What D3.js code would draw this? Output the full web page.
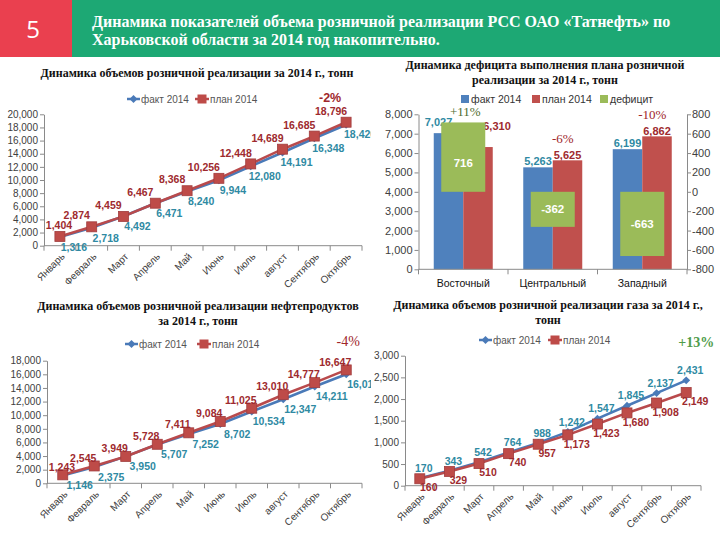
<!DOCTYPE html>
<html><head><meta charset="utf-8">
<script src="https://cdn.jsdelivr.net/npm/d3@7"></script>
<style>body{margin:0;background:#fff}svg{display:block}</style>
</head><body><svg id="c" width="720" height="540"></svg>
<script>
// ---------- data ----------
const titleLines = ["Динамика показателей объема розничной реализации РСС  ОАО «Татнефть» по", "Харьковской области за 2014 год накопительно."];
const slideNumber = "5";
const months = ["Январь","Февраль","Март","Апрель","Май","Июнь","Июль","август","Сентябрь","Октябрь"];
const seriesNames = ["факт 2014","план 2014","дефицит"];

const totalFact = [1316,2718,4492,6471,8240,9944,12080,14191,16348,18420];
const totalPlan = [1404,2874,4459,6467,8368,10256,12448,14689,16685,18796];
const totalTicks = [0,2000,4000,6000,8000,10000,12000,14000,16000,18000,20000];

const oilFact = [1146,2375,3950,5707,7252,8702,10534,12347,14211,16010];
const oilPlan = [1243,2545,3949,5728,7411,9084,11025,13010,14777,16647];
const oilTicks = [0,2000,4000,6000,8000,10000,12000,14000,16000,18000];

const gasFact = [170,343,542,764,988,1242,1547,1845,2137,2431];
const gasPlan = [160,329,510,740,957,1173,1423,1680,1908,2149];
const gasTicks = [0,500,1000,1500,2000,2500,3000];

const regions = ["Восточный","Центральный","Западный"];
const regionFact = [7027,5263,6199];
const regionPlan = [6310,5625,6862];
const regionDeficit = [716,-362,-663];
const regionPct = ["+11%","-6%","-10%"];
const leftTicks = [0,1000,2000,3000,4000,5000,6000,7000,8000];
const rightTicks = [-800,-600,-400,-200,0,200,400,600,800];

const subTotal = ["Динамика объемов розничной реализации за  2014 г., тонн"];
const subDeficit = ["Динамика дефицита выполнения плана розничной","реализации за  2014 г., тонн"];
const subOil = ["Динамика объемов розничной реализации нефтепродуктов","за  2014 г., тонн"];
const subGas = ["Динамика объемов  розничной реализации газа за  2014 г.,","тонн"];
const pctTotal = "-2%", pctOil = "-4%", pctGas = "+13%";

// ---------- styles ----------
const C = {
  factLine:"#4a7ab8", planLine:"#b94a4c", planMarker:"#be4b48", planMarkerStroke:"#a13d3e",
  factLbl:"#2f8aa3", planLbl:"#9e2a2e", axis:"#8a8a8a", tick:"#404040",
  blue:"#4f81bd", red:"#c0504d", green:"#9bbb59", green2:"#4f9c4a"
};
const SANS = "'Liberation Sans', Arial, sans-serif";
const SERIF = "'Liberation Serif', 'Times New Roman', serif";
const fmt = d => d3.format(",")(d).replace("\u2212","-");

const svg = d3.select("#c");

// ---------- header ----------
svg.append("rect").attr("x",0).attr("y",0).attr("width",72).attr("height",57).attr("fill","#ea404f");
svg.append("rect").attr("x",72).attr("y",0).attr("width",648).attr("height",57).attr("fill","#1da874");
svg.append("text").attr("x",33).attr("y",38).attr("text-anchor","middle").attr("fill","#fff")
  .style("font-family","'Open Sans', "+SANS).style("font-size","24px").text(slideNumber);
titleLines.forEach((t,i)=>svg.append("text").attr("x",92).attr("y",27+i*18).attr("fill","#fff")
  .style("font-family",SERIF).style("font-weight","bold").style("font-size","16px").text(t));

function subtitle(lines, cx, y0){
  lines.forEach((t,i)=>svg.append("text").attr("x",cx).attr("y",y0+i*15).attr("text-anchor","middle")
    .style("font-family",SERIF).style("font-weight","bold").style("font-size","12px").attr("fill","#111").text(t));
}
subtitle(subTotal,197,77);
subtitle(subDeficit,545,69);
subtitle(subOil,198,310);
subtitle(subGas,548,309);

// clip for left charts
const defs = svg.append("defs");
defs.append("clipPath").attr("id","clipL").append("rect").attr("x",0).attr("y",60).attr("width",371).attr("height",480);

function styleAxis(g, size){
  g.select(".domain").attr("stroke",C.axis);
  g.selectAll(".tick line").attr("stroke",C.axis);
  g.selectAll(".tick text").attr("fill",C.tick).style("font-family",SANS).style("font-size",size+"px");
}

function lineChart(o){
  const g = svg.append("g").attr("clip-path", o.clip ? "url(#clipL)" : null);
  const x = d3.scaleBand().domain(months).range([o.x0,o.x1]);
  const y = d3.scaleLinear().domain([0,d3.max(o.ticks)]).range([o.yb,o.yt]);
  const cx = m => x(m)+x.bandwidth()/2;
  // y axis
  const ya = g.append("g").attr("transform",`translate(${o.x0},0)`)
    .call(d3.axisLeft(y).tickValues(o.ticks).tickSize(4).tickSizeOuter(0).tickPadding(2).tickFormat(fmt));
  styleAxis(ya,10);
  // x axis
  g.append("line").attr("x1",o.x0).attr("x2",o.x1).attr("y1",o.yb).attr("y2",o.yb).attr("stroke",C.axis);
  g.selectAll(null).data(months.concat(["__end"])).enter().append("line")
    .attr("x1",d=>d==="__end"?o.x1:x(d)).attr("x2",d=>d==="__end"?o.x1:x(d))
    .attr("y1",o.yb).attr("y2",o.yb+5).attr("stroke",C.axis);
  g.selectAll(null).data(months).enter().append("text")
    .attr("transform",d=>`translate(${cx(d)+3},${o.yb+9}) rotate(-45)`)
    .attr("text-anchor","end").attr("dy","0.35em").attr("fill",C.tick)
    .style("font-family",SANS).style("font-size","10px").text(d=>d);
  // lines
  const line = arr => d3.line().x((d,i)=>cx(months[i])).y(d=>y(d))(arr);
  const series = [
    {v:o.fact, color:C.factLine, kind:"fact"},
    {v:o.plan, color:C.planLine, kind:"plan"}
  ];
  series.forEach(s=>{
    g.append("path").attr("d",line(s.v)).attr("fill","none").attr("stroke",s.color).attr("stroke-width",2.6);
    if(s.kind==="plan"){
      g.selectAll(null).data(s.v).enter().append("rect")
        .attr("x",(d,i)=>cx(months[i])-5).attr("y",d=>y(d)-5).attr("width",10).attr("height",10)
        .attr("fill",C.planMarker).attr("stroke",C.planMarkerStroke).attr("stroke-width",0.8);
    } else {
      g.selectAll(null).data(s.v).enter().append("path")
        .attr("d",d3.symbol(d3.symbolDiamond2,40)())
        .attr("transform",(d,i)=>`translate(${cx(months[i])},${y(d)})`)
        .attr("fill",C.factLine);
    }
  });
  // labels (kept clear of the y-axis tick labels)
  const minX = o.x0 + 15;
  const lbl = (arr,off,color)=>g.selectAll(null).data(arr).enter().append("text")
    .attr("x",(d,i)=>Math.max(minX, cx(months[i])+off[0])).attr("y",(d,i)=>y(d)+off[1])
    .attr("text-anchor","middle").attr("dy","0.35em").attr("fill",color)
    .style("font-family",SANS).style("font-weight","bold").style("font-size","10.5px").text(fmt);
  lbl(o.plan,o.planOff,C.planLbl);
  lbl(o.fact,o.factOff,C.factLbl);
  // legend
  const ly = o.legend[2];
  const lf = o.legend[0], lp = o.legend[1];
  g.append("line").attr("x1",lf).attr("x2",lf+13).attr("y1",ly).attr("y2",ly).attr("stroke",C.factLine).attr("stroke-width",2.5);
  g.append("path").attr("d",d3.symbol(d3.symbolDiamond2,40)()).attr("transform",`translate(${lf+6.5},${ly})`).attr("fill",C.factLine);
  g.append("text").attr("x",lf+14).attr("y",ly).attr("dy","0.35em").attr("fill","#555")
    .style("font-family",SANS).style("font-size","10px").text(seriesNames[0]);
  g.append("line").attr("x1",lp).attr("x2",lp+14).attr("y1",ly).attr("y2",ly).attr("stroke",C.planLine).attr("stroke-width",2.5);
  g.append("rect").attr("x",lp+2.5).attr("y",ly-4.5).attr("width",9).attr("height",9).attr("fill",C.planMarker);
  g.append("text").attr("x",lp+15).attr("y",ly).attr("dy","0.35em").attr("fill","#555")
    .style("font-family",SANS).style("font-size","10px").text(seriesNames[1]);
  // percent
  const last = months.length-1;
  const ref = o.pctRef==="fact" ? o.fact[last] : o.plan[last];
  g.append("text").attr("x",cx(months[last])+o.pctOff[0]).attr("y",y(ref)+o.pctOff[1])
    .attr("text-anchor","middle").attr("dy","0.35em").attr("fill",o.pctColor)
    .style("font-family",o.pctFont).style("font-weight",o.pctBold?"bold":"normal").style("font-size",o.pctSize+"px")
    .text(o.pct);
}

lineChart({x0:44,x1:362,yb:245.7,yt:114.3,ticks:totalTicks,fact:totalFact,plan:totalPlan,
  planOff:[-15,-11],factOff:[14,10],legend:[127,195,99],clip:true,
  pct:pctTotal,pctRef:"plan",pctOff:[-16,-25],pctColor:"#a0262b",pctFont:SANS,pctBold:true,pctSize:12.5});

lineChart({x0:47,x1:362,yb:483.3,yt:360.7,ticks:oilTicks,fact:oilFact,plan:oilPlan,
  planOff:[-11,-8],factOff:[17,10],legend:[125,197,344],clip:true,
  pct:pctOil,pctRef:"plan",pctOff:[2,-29],pctColor:"#a0262b",pctFont:SERIF,pctBold:false,pctSize:14});

lineChart({x0:405,x1:701,yb:485.7,yt:355.7,ticks:gasTicks,fact:gasFact,plan:gasPlan,
  planOff:[9,9],factOff:[4,-10],legend:[479,548,340],clip:false,
  pct:pctGas,pctRef:"fact",pctOff:[10,-38],pctColor:C.green2,pctFont:SERIF,pctBold:true,pctSize:14});

// ---------- bar chart ----------
(function(){
  const g = svg.append("g");
  const x0 = 418.5, x1 = 687, yb = 269.3, yt = 114.3;
  const x = d3.scaleBand().domain(regions).range([x0,x1]);
  const inner = d3.scaleBand().domain(["fact","plan"]).range([0,59]);
  const yL = d3.scaleLinear().domain([0,8000]).range([yb,yt]);
  const yR = d3.scaleLinear().domain([-800,800]).range([yb,yt]);
  const bx = (r,k) => x(r)+x.bandwidth()/2-29.5+inner(k);
  const bw = inner.bandwidth();

  const la = g.append("g").attr("transform",`translate(${x0},0)`)
    .call(d3.axisLeft(yL).tickValues(leftTicks).tickSize(4).tickSizeOuter(0).tickPadding(2).tickFormat(fmt));
  styleAxis(la,11);
  const ra = g.append("g").attr("transform",`translate(${x1},0)`)
    .call(d3.axisRight(yR).tickValues(rightTicks).tickSize(4).tickSizeOuter(0).tickPadding(1).tickFormat(fmt));
  styleAxis(ra,11);

  regions.forEach((r,i)=>{
    g.append("rect").attr("x",bx(r,"fact")).attr("y",yL(regionFact[i])).attr("width",bw).attr("height",yb-yL(regionFact[i])).attr("fill",C.blue);
    g.append("rect").attr("x",bx(r,"plan")).attr("y",yL(regionPlan[i])).attr("width",bw).attr("height",yb-yL(regionPlan[i])).attr("fill",C.red);
  });
  // x axis
  g.append("line").attr("x1",x0).attr("x2",x1).attr("y1",yb).attr("y2",yb).attr("stroke",C.axis);
  regions.concat(["__end"]).forEach(r=>{
    const xx = r==="__end"?x1:x(r);
    g.append("line").attr("x1",xx).attr("x2",xx).attr("y1",yb).attr("y2",yb+5).attr("stroke",C.axis);
  });
  g.selectAll(null).data(regions).enter().append("text")
    .attr("x",d=>x(d)+x.bandwidth()/2).attr("y",yb+14).attr("text-anchor","middle").attr("dy","0.35em")
    .attr("fill","#111").style("font-family",SANS).style("font-size","10.5px").text(d=>d);
  // value labels (pushed aside when a positive deficit bar stands over them)
  regions.forEach((r,i)=>{
    const pushed = regionDeficit[i] > 0;
    const fo = pushed ? [-10,-11] : [0,-6];
    const po = pushed ? [19,-21] : [0,-5];
    g.append("text").attr("x",bx(r,"fact")+bw/2+fo[0]).attr("y",yL(regionFact[i])+fo[1]).attr("text-anchor","middle").attr("dy","0.35em")
      .attr("fill",C.factLbl).style("font-family",SANS).style("font-weight","bold").style("font-size","11px").text(fmt(regionFact[i]));
    g.append("text").attr("x",bx(r,"plan")+bw/2+po[0]).attr("y",yL(regionPlan[i])+po[1]).attr("text-anchor","middle").attr("dy","0.35em")
      .attr("fill",C.planLbl).style("font-family",SANS).style("font-weight","bold").style("font-size","11px").text(fmt(regionPlan[i]));
  });
  // deficit bars
  regions.forEach((r,i)=>{
    const v = regionDeficit[i];
    const cx = x(r)+x.bandwidth()/2;
    const top = Math.min(yR(0),yR(v)), h = Math.abs(yR(v)-yR(0));
    g.append("rect").attr("x",cx-22).attr("y",top).attr("width",44).attr("height",h).attr("fill",C.green);
    g.append("text").attr("x",cx).attr("y",top+h/2+ (v>0?6:0)).attr("text-anchor","middle").attr("dy","0.35em")
      .attr("fill","#fff").style("font-family",SANS).style("font-weight","bold").style("font-size","11.5px").text(fmt(v));
  });
  // percent labels
  regions.forEach((r,i)=>{
    const m = Math.max(regionFact[i],regionPlan[i]);
    const cx = x(r)+x.bandwidth()/2;
    g.append("text").attr("x",cx+(i===0?2:10)).attr("y",yL(m)-22).attr("text-anchor","middle").attr("dy","0.35em")
      .attr("fill", regionDeficit[i]>0 ? "#4f6b2e" : "#a0262b")
      .style("font-family",SERIF).style("font-size","13px").text(regionPct[i]);
  });
  // legend
  const ly = 99;
  [[461,C.blue],[532,C.red],[600,C.green]].forEach((d,i)=>{
    g.append("rect").attr("x",d[0]).attr("y",ly-4).attr("width",8).attr("height",8).attr("fill",d[1]);
    g.append("text").attr("x",d[0]+10).attr("y",ly).attr("dy","0.35em").attr("fill","#333")
      .style("font-family",SANS).style("font-size","10.5px").text(seriesNames[i]);
  });
})();
</script></body></html>
